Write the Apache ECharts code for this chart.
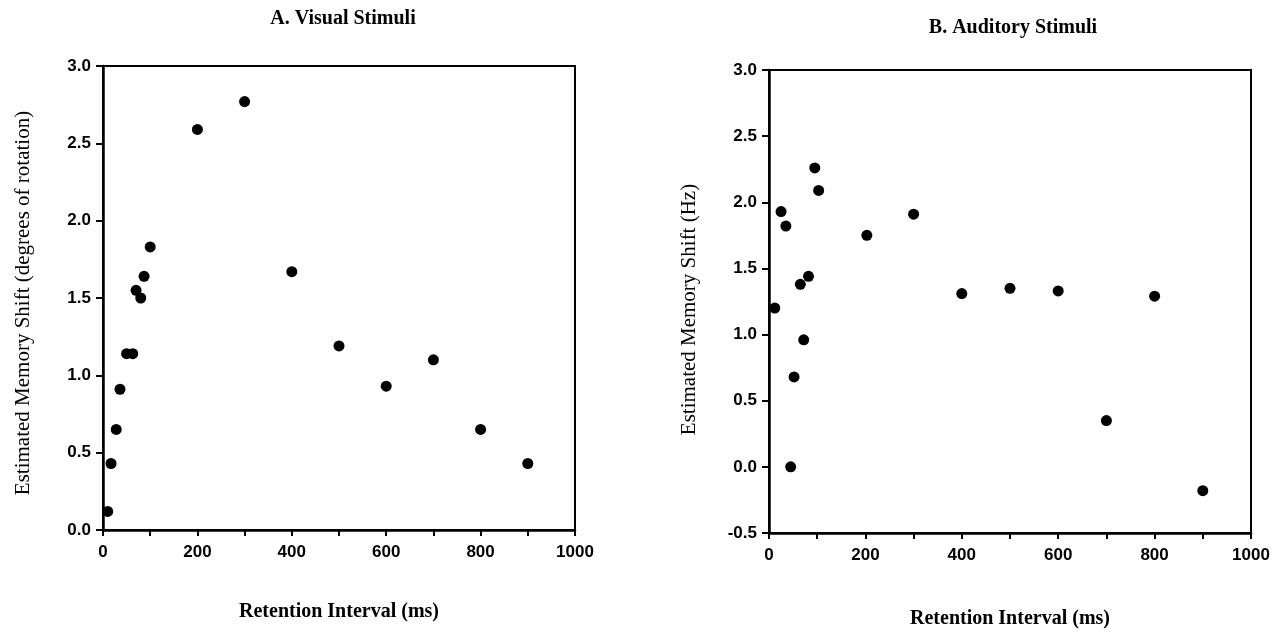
<!DOCTYPE html>
<html>
<head>
<meta charset="utf-8">
<script src="https://cdn.jsdelivr.net/npm/echarts@6/dist/echarts.min.js"></script>
<style>
html,body{margin:0;padding:0;background:#fff;}
#chart{width:1278px;height:634px;}
</style>
</head>
<body>
<div id="chart"></div>
<script>
// Panel A: Visual stimuli
const visualInterval = [10, 17, 28, 36, 50, 63, 70, 80, 87, 100, 200, 300, 400, 500, 600, 700, 800, 900];
const visualShift    = [0.12, 0.43, 0.65, 0.91, 1.14, 1.14, 1.55, 1.50, 1.64, 1.83, 2.59, 2.77, 1.67, 1.19, 0.93, 1.10, 0.65, 0.43];
// Panel B: Auditory stimuli
const auditoryInterval = [12, 25, 35, 45, 52, 65, 72, 82, 95, 103, 203, 300, 400, 500, 600, 700, 800, 900];
const auditoryShift    = [1.20, 1.93, 1.82, 0.00, 0.68, 1.38, 0.96, 1.44, 2.26, 2.09, 1.75, 1.91, 1.31, 1.35, 1.33, 0.35, 1.29, -0.18];
// Axis ticks
const xTicks = [0, 200, 400, 600, 800, 1000];
const yTicksA = [0.0, 0.5, 1.0, 1.5, 2.0, 2.5, 3.0];
const yTicksB = [-0.5, 0.0, 0.5, 1.0, 1.5, 2.0, 2.5, 3.0];

const titles = ['A. Visual Stimuli', 'B. Auditory Stimuli'];
const yNames = ['Estimated Memory Shift (degrees of rotation)', 'Estimated Memory Shift (Hz)'];
const xName = 'Retention Interval (ms)';

const serif = '"Liberation Serif", "DejaVu Serif", serif';
const sans = '"Liberation Sans", Arial, sans-serif';

function pair(arrX, arrY){ return arrX.map((x,i)=>[x, arrY[i]]); }

const grids = [
  {left:103, right:703, top:66, bottom:104},
  {left:769, right:27, top:70, bottom:97}
];

function xAxis(gi){
  return {
    gridIndex: gi, type:'value', min: xTicks[0], max: xTicks[xTicks.length-1], interval: 100,
    name: xName, nameLocation:'middle', nameGap: gi===0 ? 72 : 76,
    nameTextStyle:{fontFamily:serif, fontSize:20, fontWeight:'bold', color:'#000'},
    axisLine:{show:true, onZero:false, lineStyle:{color:'#000', width:2.5}},
    axisTick:{show:true, length:6, lineStyle:{color:'#000', width:2}},
    axisLabel:{color:'#000', fontFamily:sans, fontWeight:'bold', fontSize:17, margin:14,
      formatter: v => xTicks.indexOf(v) >= 0 ? String(v) : ''},
    splitLine:{show:false}
  };
}
function yAxis(gi, ticks){
  return {
    gridIndex: gi, type:'value', min: ticks[0], max: ticks[ticks.length-1], interval: 0.5,
    name: yNames[gi], nameLocation:'middle', nameGap: 69,
    nameTextStyle:{fontFamily:serif, fontSize:21, color:'#000', padding: gi===0 ? [0,10,0,0] : [0,16,0,0]},
    axisLine:{show:true, onZero:false, lineStyle:{color:'#000', width:2.5}},
    axisTick:{show:true, length:7, lineStyle:{color:'#000', width:2}},
    axisLabel:{color:'#000', fontFamily:sans, fontWeight:'bold', fontSize:17, margin:12,
      formatter: v => v.toFixed(1)},
    splitLine:{show:false}
  };
}

const chart = echarts.init(document.getElementById('chart'), null, {renderer:'canvas'});
chart.setOption({
  backgroundColor:'#fff',
  animation:false,
  title:[
    {text: titles[0], left: 338, top: 4, textAlign:'center',
     textStyle:{fontFamily:serif, fontSize:20, fontWeight:'bold', color:'#000'}},
    {text: titles[1], left: 1008, top: 13, textAlign:'center',
     textStyle:{fontFamily:serif, fontSize:20, fontWeight:'bold', color:'#000'}}
  ],
  grid: grids.map(g => Object.assign({show:true, borderColor:'#000', borderWidth:2, backgroundColor:'transparent'}, g)),
  xAxis:[xAxis(0), xAxis(1)],
  yAxis:[yAxis(0, yTicksA), yAxis(1, yTicksB)],
  series:[
    {type:'scatter', xAxisIndex:0, yAxisIndex:0, data: pair(visualInterval, visualShift),
     symbol:'circle', symbolSize:11, itemStyle:{color:'#000', opacity:1}},
    {type:'scatter', xAxisIndex:1, yAxisIndex:1, data: pair(auditoryInterval, auditoryShift),
     symbol:'circle', symbolSize:11, itemStyle:{color:'#000', opacity:1}}
  ]
});
</script>
</body>
</html>
